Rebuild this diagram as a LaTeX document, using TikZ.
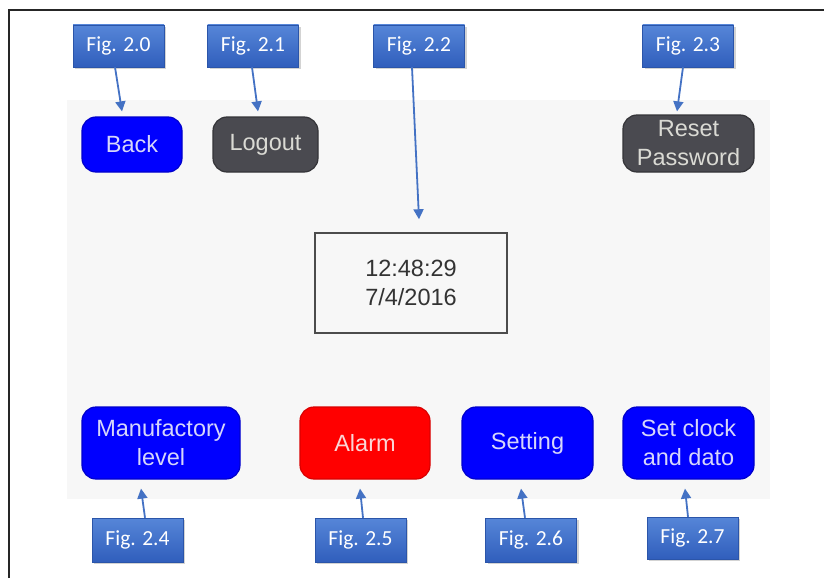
\documentclass[tikz,border=0pt]{standalone}
\usepackage{fontspec}
\setmainfont{Liberation Sans}
\newfontfamily\figfont{Carlito}
\usetikzlibrary{shadows,arrows.meta}

\definecolor{panelgray}{RGB}{247,247,247}
\definecolor{figtop}{RGB}{86,134,216}
\definecolor{figbot}{RGB}{48,94,188}
\definecolor{arrowblue}{RGB}{68,114,196}
\definecolor{btnblue}{RGB}{0,0,255}
\definecolor{btnred}{RGB}{255,0,0}
\definecolor{btngray}{RGB}{74,74,80}
\definecolor{txtblue}{RGB}{214,214,250}
\definecolor{txtred}{RGB}{250,214,214}
\definecolor{txtgray}{RGB}{218,218,212}
\definecolor{clocktxt}{RGB}{51,51,51}

\tikzset{
  figlabel/.style={minimum width=91pt, minimum height=42pt, inner sep=0pt,
    top color=figtop, bottom color=figbot, draw=figbot!90!black, line width=0.4pt,
    drop shadow={opacity=0.35, shadow xshift=2pt, shadow yshift=-2pt},
    text=white, font=\figfont\fontsize{21.5}{24}\selectfont},
  button/.style={rounded corners=14pt, inner sep=0pt, line width=1.2pt,
    align=center, font=\fontsize{23.5}{29}\selectfont},
  bluebtn/.style={button, fill=btnblue, draw=btnblue!80!black, text=txtblue},
  redbtn/.style={button, fill=btnred, draw=btnred!85!black, text=txtred},
  graybtn/.style={button, fill=btngray, draw=btngray!70!black, text=txtgray},
  pointer/.style={draw=arrowblue, line width=1.8pt,
    -{Triangle[length=10pt,width=10pt]}}
}

\begin{document}
\begin{tikzpicture}[x=1pt,y=-1pt]
  \useasboundingbox (0,0) rectangle (824,578);

  % outer frame (open to the right and bottom)
  \draw[line width=2pt, black!85] (9,578) -- (9,10) -- (824,10);

  % screen panel
  \fill[panelgray] (67,100) rectangle (770,499);

  % screen buttons
  \node[bluebtn, minimum width=100pt, minimum height=55pt] (back) at (132,144.5) {Back};
  \node[graybtn, minimum width=105pt, minimum height=55pt] (logout) at (265.5,144.5) {Logout};
  \node[graybtn, minimum width=131pt, minimum height=57pt] (reset) at (688.5,143.5) {Reset\\Password};

  \node[draw=black!70, line width=1.5pt, fill=panelgray, minimum width=192pt,
        minimum height=100pt, align=center, text=clocktxt,
        font=\fontsize{23.5}{29}\selectfont] (clock) at (411,283) {12:48:29\\7/4/2016};

  \node[bluebtn, minimum width=158pt, minimum height=72pt] (manu) at (161,443) {Manufactory\\level};
  \node[redbtn, minimum width=130pt, minimum height=72pt] (alarm) at (365,443) {Alarm};
  \node[bluebtn, minimum width=131pt, minimum height=72pt] (setting) at (527.5,443) {\raisebox{-3pt}{Setting}};
  \node[bluebtn, minimum width=131pt, minimum height=72pt] (setclock) at (688.5,443) {Set clock\\and dato};

  % figure callouts
  \node[figlabel] (f20) at (118.5,46) {Fig. 2.0};
  \node[figlabel] (f21) at (253,46) {Fig. 2.1};
  \node[figlabel] (f22) at (419,46) {Fig. 2.2};
  \node[figlabel] (f23) at (688,46) {Fig. 2.3};
  \node[figlabel, minimum height=44pt] (f24) at (137.5,540) {Fig. 2.4};
  \node[figlabel, minimum height=44pt] (f25) at (360.5,540) {Fig. 2.5};
  \node[figlabel, minimum height=44pt] (f26) at (531,540) {Fig. 2.6};
  \node[figlabel] (f27) at (692.5,538) {Fig. 2.7};

  % callout arrows
  \draw[pointer] ([xshift=-3.5pt]f20.south) -- ([xshift=-10pt,yshift=5pt]back.north);
  \draw[pointer] ([xshift=-1pt]f21.south) -- ([xshift=-7.5pt,yshift=5pt]logout.north);
  \draw[pointer] ([xshift=-7pt]f22.south) -- ([xshift=8pt,yshift=13pt]clock.north);
  \draw[pointer] ([xshift=-5pt]f23.south) -- ([xshift=-11.5pt,yshift=3pt]reset.north);
  \draw[pointer] ([xshift=7.5pt]f24.north) -- ([xshift=-20pt,yshift=-9pt]manu.south);
  \draw[pointer] ([xshift=2.5pt]f25.north) -- ([xshift=-5pt,yshift=-9pt]alarm.south);
  \draw[pointer] ([xshift=-6pt]f26.north) -- ([xshift=-6.5pt,yshift=-9pt]setting.south);
  \draw[pointer] ([xshift=-4.5pt]f27.north) -- ([xshift=-3.5pt,yshift=-9pt]setclock.south);
\end{tikzpicture}
\end{document}
